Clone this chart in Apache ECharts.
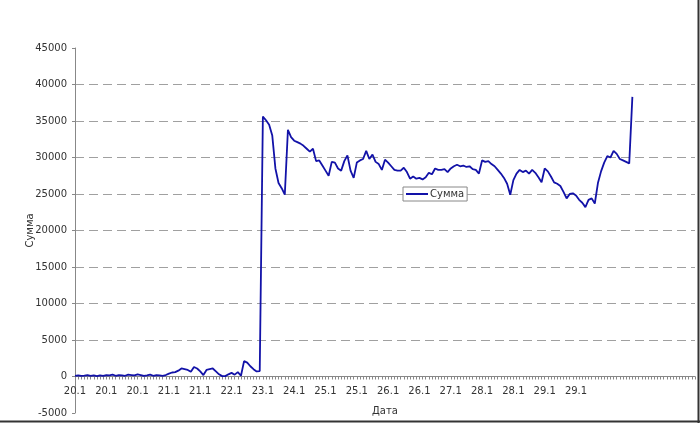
<!DOCTYPE html>
<html>
<head>
<meta charset="utf-8">
<script src="https://cdn.jsdelivr.net/npm/echarts@6/dist/echarts.min.js"></script>
<style>
html,body{margin:0;padding:0;background:#fff;}
#chart{width:700px;height:423px;}
</style>
</head>
<body>
<div id="chart"></div>
<script>
// Tick labels shown every 10 categories along the x axis
var tickLabels = ['20.1','20.1','20.1','21.1','21.1','22.1','23.1','24.1','25.1','25.1',
                  '26.1','26.1','27.1','28.1','28.1','29.1','29.1','','',''];
var categoryCount = 199;
var seriesName = 'Сумма';
var xAxisName = 'Дата';
var yAxisName = 'Сумма';

var summa = [
  // 20.1 - 21.1
  100,150,80,120,200,100,150,60,150,100,
  200,150,250,100,200,150,100,250,200,150,
  300,200,100,150,250,100,200,150,100,200,
  // 21.1 - 23.1
  400,550,600,800,1100,1000,900,650,1300,1100,
  700,200,900,1000,1100,700,300,50,50,300,
  500,250,600,100,2100,1900,1400,1000,700,750,
  // 23.1 - 25.1
  35600,35100,34500,33000,28500,26500,25800,24900,33800,32800,
  32300,32100,31900,31600,31200,30800,31200,29500,29600,28900,
  28200,27500,29400,29300,28500,28200,29500,30300,28200,27200,
  // 25.1 - 27.1
  29300,29600,29800,30900,29800,30400,29400,29100,28300,29700,
  29300,28800,28300,28200,28200,28600,28000,27100,27400,27100,
  27200,27000,27300,27900,27700,28500,28300,28300,28400,28000,
  // 27.1 - 29.1
  28500,28800,29000,28800,28900,28700,28800,28400,28300,27800,
  29600,29400,29500,29100,28800,28300,27800,27200,26400,24900,
  26900,27800,28300,28000,28200,27800,28300,27900,27300,26600,
  // 29.1 -
  28500,28100,27400,26600,26400,26100,25300,24400,25000,25100,
  24800,24200,23800,23200,24200,24400,23700,26500,28100,29300,
  30200,30000,30900,30500,29800,29600,29400,29200,38300
];

var categories = [];
for (var i = 0; i < categoryCount; i++) categories.push(String(i));

var chart = echarts.init(document.getElementById('chart'), null, {renderer: 'canvas'});
var font = 'DejaVu Sans, Verdana, sans-serif';
chart.setOption({
  animation: false,
  backgroundColor: '#ffffff',
  grid: {left: 75, right: 5, top: 48, bottom: 10, containLabel: false, outerBoundsMode: 'none'},
  legend: {
    data: [seriesName],
    left: 403, top: 187,
    orient: 'vertical',
    backgroundColor: '#ffffff',
    borderColor: '#888888',
    borderWidth: 1,
    borderRadius: 0,
    padding: [2, 3, 2, 3],
    icon: 'rect',
    itemWidth: 22,
    itemHeight: 2,
    itemGap: 4,
    textStyle: {fontFamily: font, fontSize: 10, color: '#333', padding: [0, 0, 0, -3]}
  },
  xAxis: {
    type: 'category',
    data: categories,
    boundaryGap: false,
    position: 'bottom',
    offset: -36.5,
    name: xAxisName,
    nameLocation: 'middle',
    nameGap: 30,
    nameMoveOverlap: false,
    nameTextStyle: {fontFamily: font, fontSize: 10, color: '#333'},
    axisLine: {onZero: false, lineStyle: {color: '#888888', width: 1}},
    axisTick: {show: true, interval: 0, length: 3, inside: false, lineStyle: {color: '#888888'}},
    axisLabel: {
      interval: 9,
      margin: 10,
      fontFamily: font, fontSize: 10, color: '#333',
      formatter: function (v, idx) { return tickLabels[Math.round(idx / 10)] || ''; }
    },
    splitLine: {show: false}
  },
  yAxis: {
    type: 'value',
    min: -5000, max: 45000, interval: 5000,
    name: yAxisName,
    nameLocation: 'middle',
    nameGap: 40,
    nameRotate: 90,
    nameMoveOverlap: false,
    nameTextStyle: {fontFamily: font, fontSize: 10, color: '#333'},
    axisLine: {show: true, lineStyle: {color: '#888888', width: 1}},
    axisTick: {show: true, length: 3, lineStyle: {color: '#888888'}},
    axisLabel: {
      margin: 8, fontFamily: font, fontSize: 10, color: '#333',
      formatter: function (v) { return String(v); }
    },
    splitLine: {
      show: true,
      showMinLine: false,
      showMaxLine: false,
      lineStyle: {color: '#a0a0a0', type: [9, 5], width: 1}
    }
  },
  series: [{
    name: seriesName,
    type: 'line',
    data: summa,
    showSymbol: false,
    symbol: 'none',
    color: '#1212a8',
    lineStyle: {color: '#1212a8', width: 1.8},
    z: 3
  }],
  graphic: [
    {type: 'line', shape: {x1: 698.5, y1: 0, x2: 698.5, y2: 423}, style: {stroke: '#333', lineWidth: 2}, silent: true},
    {type: 'line', shape: {x1: 0, y1: 421.5, x2: 700, y2: 421.5}, style: {stroke: '#333', lineWidth: 2}, silent: true}
  ]
});
</script>
</body>
</html>
